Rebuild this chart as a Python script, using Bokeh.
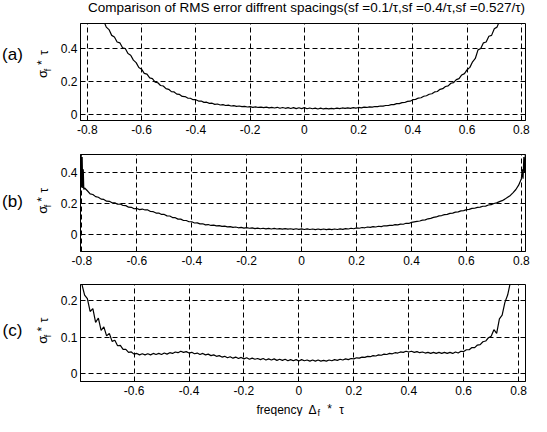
from bokeh.plotting import figure
from bokeh.models import Range1d, FixedTicker
from bokeh.layouts import column, row
from bokeh.core.properties import value
from bokeh.embed import file_html
from bokeh.resources import INLINE

# ---------------- data ----------------
title_text = "Comparison of RMS error diffrent spacings(sf =0.1/\u03c4,sf =0.4/\u03c4,sf =0.527/\u03c4)"
panel_tags = ["(a)", "(b)", "(c)"]
x_label_parts = ["freqency", "\u0394", "f", "*", "\u03c4"]
y_label_parts = ["\u03c3", "f", "*", "\u03c4"]

x_ticks = [-0.8, -0.6, -0.4, -0.2, 0, 0.2, 0.4, 0.6, 0.8]
x_tick_labels = ["-0.8", "-0.6", "-0.4", "-0.2", "0", "0.2", "0.4", "0.6", "0.8"]
y_ticks_ab = [0, 0.2, 0.4]
y_tick_labels_ab = ["0", "0.2", "0.4"]
y_ticks_c = [0, 0.1, 0.2]
y_tick_labels_c = ["0", "0.1", "0.2"]

freq_grid = [
    -0.80, -0.79, -0.78, -0.77, -0.76, -0.75, -0.74, -0.73, -0.72, -0.71,
    -0.70, -0.69, -0.68, -0.67, -0.66, -0.65, -0.64, -0.63, -0.62, -0.61,
    -0.60, -0.59, -0.58, -0.57, -0.56, -0.55, -0.54, -0.53, -0.52, -0.51,
    -0.50, -0.49, -0.48, -0.47, -0.46, -0.45, -0.44, -0.43, -0.42, -0.41,
    -0.40, -0.39, -0.38, -0.37, -0.36, -0.35, -0.34, -0.33, -0.32, -0.31,
    -0.30, -0.29, -0.28, -0.27, -0.26, -0.25, -0.24, -0.23, -0.22, -0.21,
    -0.20, -0.19, -0.18, -0.17, -0.16, -0.15, -0.14, -0.13, -0.12, -0.11,
    -0.10, -0.09, -0.08, -0.07, -0.06, -0.05, -0.04, -0.03, -0.02, -0.01,
    0.00, 0.01, 0.02, 0.03, 0.04, 0.05, 0.06, 0.07, 0.08, 0.09,
    0.10, 0.11, 0.12, 0.13, 0.14, 0.15, 0.16, 0.17, 0.18, 0.19,
    0.20, 0.21, 0.22, 0.23, 0.24, 0.25, 0.26, 0.27, 0.28, 0.29,
    0.30, 0.31, 0.32, 0.33, 0.34, 0.35, 0.36, 0.37, 0.38, 0.39,
    0.40, 0.41, 0.42, 0.43, 0.44, 0.45, 0.46, 0.47, 0.48, 0.49,
    0.50, 0.51, 0.52, 0.53, 0.54, 0.55, 0.56, 0.57, 0.58, 0.59,
    0.60, 0.61, 0.62, 0.63, 0.64, 0.65, 0.66, 0.67, 0.68, 0.69,
    0.70, 0.71, 0.72, 0.73, 0.74, 0.75, 0.76, 0.77, 0.78, 0.79,
    0.80,
]

# (a) sf = 0.1/tau  (x = freq_grid)
rms_a = [
    0.83, 0.77, 0.74, 0.67, 0.65, 0.59, 0.57, 0.53, 0.515, 0.48,
    0.47, 0.44, 0.435, 0.405, 0.40, 0.37, 0.36, 0.33, 0.315, 0.285,
    0.275, 0.25, 0.245, 0.222, 0.218, 0.197, 0.193, 0.176, 0.173, 0.157,
    0.153, 0.139, 0.137, 0.124, 0.122, 0.110, 0.109, 0.100, 0.099, 0.090,
    0.090, 0.082, 0.082, 0.074, 0.075, 0.068, 0.069, 0.062, 0.064, 0.058,
    0.060, 0.055, 0.057, 0.052, 0.054, 0.050, 0.052, 0.048, 0.050, 0.046,
    0.048, 0.044, 0.047, 0.043, 0.045, 0.042, 0.045, 0.041, 0.044, 0.040,
    0.044, 0.038, 0.043, 0.038, 0.042, 0.037, 0.042, 0.036, 0.041, 0.036,
    0.042, 0.035, 0.040, 0.035, 0.039, 0.034, 0.039, 0.034, 0.038, 0.034,
    0.038, 0.035, 0.039, 0.036, 0.040, 0.037, 0.041, 0.038, 0.042, 0.039,
    0.043, 0.041, 0.045, 0.043, 0.047, 0.045, 0.049, 0.048, 0.052, 0.051,
    0.055, 0.055, 0.060, 0.060, 0.066, 0.066, 0.072, 0.073, 0.080, 0.081,
    0.090, 0.092, 0.100, 0.102, 0.111, 0.114, 0.123, 0.126, 0.137, 0.140,
    0.153, 0.157, 0.170, 0.174, 0.190, 0.194, 0.212, 0.218, 0.240, 0.248,
    0.272, 0.286, 0.320, 0.340, 0.392, 0.400, 0.435, 0.440, 0.475, 0.480,
    0.520, 0.530, 0.570, 0.590, 0.640, 0.660, 0.720, 0.740, 0.800, 0.820,
    0.880,
]

# (b) sf = 0.4/tau  (x = left spike + freq_grid[1:] + right spike)
edge_left_x_b = [-0.805, -0.803, -0.801, -0.799, -0.797, -0.795, -0.793]
edge_left_b = [0.30, 0.55, 0.31, 0.50, 0.30, 0.42, 0.29]
rms_b = [
    0.300, 0.282, 0.262, 0.258, 0.244, 0.240, 0.228, 0.226, 0.215, 0.214,
    0.204, 0.204, 0.195, 0.196, 0.187, 0.186, 0.176, 0.175, 0.166, 0.168,
    0.160, 0.164, 0.158, 0.158, 0.148, 0.147, 0.138, 0.138, 0.129, 0.129,
    0.120, 0.119, 0.109, 0.108, 0.099, 0.099, 0.090, 0.090, 0.082, 0.082,
    0.074, 0.075, 0.068, 0.069, 0.062, 0.064, 0.058, 0.060, 0.055, 0.057,
    0.052, 0.054, 0.049, 0.051, 0.046, 0.048, 0.043, 0.046, 0.041, 0.044,
    0.040, 0.042, 0.038, 0.041, 0.037, 0.040, 0.036, 0.039, 0.035, 0.039,
    0.035, 0.038, 0.034, 0.038, 0.034, 0.037, 0.033, 0.037, 0.033, 0.036,
    0.032, 0.036, 0.032, 0.035, 0.031, 0.035, 0.031, 0.035, 0.031, 0.034,
    0.031, 0.035, 0.032, 0.036, 0.033, 0.038, 0.035, 0.040, 0.037, 0.042,
    0.040, 0.045, 0.043, 0.048, 0.046, 0.050, 0.048, 0.053, 0.051, 0.056,
    0.055, 0.059, 0.058, 0.063, 0.062, 0.067, 0.066, 0.072, 0.071, 0.078,
    0.081, 0.084, 0.087, 0.092, 0.094, 0.101, 0.104, 0.110, 0.113, 0.120,
    0.122, 0.128, 0.130, 0.136, 0.138, 0.144, 0.146, 0.152, 0.154, 0.160,
    0.162, 0.168, 0.169, 0.175, 0.176, 0.182, 0.183, 0.190, 0.192, 0.200,
    0.204, 0.212, 0.218, 0.228, 0.240, 0.252, 0.270, 0.290, 0.318, 0.360,
]
edge_right_x_b = [0.803, 0.806, 0.809, 0.812, 0.815]
edge_right_b = [0.42, 0.36, 0.50, 0.40, 0.55]

# (c) sf = 0.527/tau  (x = freq_grid[:159])
rms_c = [
    0.26, 0.245, 0.215, 0.205, 0.170, 0.178, 0.140, 0.152, 0.118, 0.128,
    0.103, 0.110, 0.088, 0.091, 0.076, 0.077, 0.066, 0.066, 0.058, 0.059,
    0.053, 0.055, 0.051, 0.054, 0.051, 0.054, 0.051, 0.055, 0.052, 0.055,
    0.052, 0.056, 0.053, 0.057, 0.055, 0.059, 0.057, 0.061, 0.058, 0.060,
    0.056, 0.058, 0.054, 0.056, 0.052, 0.055, 0.051, 0.053, 0.049, 0.051,
    0.047, 0.049, 0.045, 0.047, 0.043, 0.046, 0.042, 0.045, 0.041, 0.044,
    0.040, 0.043, 0.039, 0.042, 0.039, 0.041, 0.038, 0.041, 0.037, 0.040,
    0.037, 0.040, 0.036, 0.039, 0.036, 0.039, 0.035, 0.038, 0.035, 0.038,
    0.034, 0.038, 0.035, 0.037, 0.034, 0.037, 0.034, 0.037, 0.034, 0.036,
    0.034, 0.037, 0.035, 0.038, 0.036, 0.039, 0.037, 0.040, 0.038, 0.041,
    0.040, 0.043, 0.042, 0.045, 0.044, 0.047, 0.046, 0.049, 0.048, 0.051,
    0.050, 0.053, 0.052, 0.055, 0.054, 0.057, 0.056, 0.059, 0.058, 0.061,
    0.059, 0.061, 0.058, 0.060, 0.057, 0.059, 0.056, 0.058, 0.055, 0.058,
    0.055, 0.058, 0.055, 0.058, 0.055, 0.058, 0.055, 0.059, 0.056, 0.061,
    0.060, 0.065, 0.065, 0.071, 0.071, 0.078, 0.079, 0.087, 0.089, 0.098,
    0.102, 0.120, 0.110, 0.150, 0.160, 0.195, 0.215, 0.250, 0.280,
]

# ---------------- styling / layout ----------------
FONT = "Liberation Sans"
W = 531
LAB_W = 54
MAIN_W = W - LAB_W
FRAME_H = 97
HALF_PI = 1.5707963


def text_fig(width, height):
    f = figure(width=width, height=height, x_range=Range1d(0, width), y_range=Range1d(0, height),
               min_border=0, toolbar_location=None, output_backend="svg",
               background_fill_color="white", border_fill_color="white")
    f.axis.visible = False
    f.grid.visible = False
    f.outline_line_color = None
    return f


def main_panel(top, bottom, xr, yr, yt, ytl, xs, ys):
    p = figure(width=MAIN_W, height=top + FRAME_H + bottom, x_range=Range1d(*xr),
               y_range=Range1d(*yr), min_border_left=26, min_border_right=6,
               min_border_top=top, min_border_bottom=bottom, toolbar_location=None,
               output_backend="svg", background_fill_color="white",
               border_fill_color="white")
    p.line(xs, ys, line_color="black", line_width=1.2)
    p.xaxis.ticker = FixedTicker(ticks=x_ticks)
    p.xaxis.major_label_overrides = dict(zip(x_ticks, x_tick_labels))
    p.yaxis.ticker = FixedTicker(ticks=yt)
    p.yaxis.major_label_overrides = dict(zip(yt, ytl))
    p.xgrid.ticker = FixedTicker(ticks=x_ticks)
    p.ygrid.ticker = FixedTicker(ticks=yt)
    for g in (p.xgrid, p.ygrid):
        g.grid_line_color = "black"
        g.grid_line_dash = "5 3"
        g.grid_line_width = 1
        g.grid_line_alpha = 1
    for ax in (p.xaxis, p.yaxis):
        ax.axis_line_color = "black"
        ax.major_tick_in = 4
        ax.major_tick_out = 0
        ax.minor_tick_line_color = None
        ax.major_label_text_font = FONT
        ax.major_label_text_font_size = "12px"
        ax.major_label_text_color = "black"
    p.xaxis.major_label_standoff = 4
    p.yaxis.major_label_standoff = 3
    p.outline_line_color = "black"
    p.outline_line_alpha = 1
    p.outline_line_width = 1
    return p


def label_fig(height, bottom, tag, tag_y):
    f = text_fig(LAB_W, height)
    f.text(x=[12], y=[tag_y], text=[tag], text_font=value(FONT), text_font_size="17px",
           text_align="center", text_baseline="middle", text_color="black")
    cy = bottom + FRAME_H / 2
    f.text(x=[42, 47, 41, 43], y=[cy - 12, cy - 7, cy + 2, cy + 14], text=y_label_parts,
           text_font=value(FONT), text_font_size=["13px", "9px", "12px", "12px"],
           angle=HALF_PI, text_align="center", text_baseline="middle", text_color="black")
    return f


# title strip (page y 8..30)
title_f = text_fig(W, 22)
title_f.text(x=[306], y=[15], text=[title_text], text_font=value(FONT), text_font_size="13.5px",
             text_align="center", text_baseline="middle", text_color="black")

pa = main_panel(1, 20, (-0.825, 0.815), (-0.036, 0.552), y_ticks_ab, y_tick_labels_ab,
                freq_grid, rms_a)
la = label_fig(1 + FRAME_H + 20, 20, panel_tags[0], 80)

pb = main_panel(14, 20, (-0.805, 0.815), (-0.11, 0.516), y_ticks_ab, y_tick_labels_ab,
                edge_left_x_b + freq_grid[1:] + edge_right_x_b,
                edge_left_b + rms_b + edge_right_b)
lb = label_fig(14 + FRAME_H + 20, 20, panel_tags[1], 68)

pc = main_panel(13, 19, (-0.795, 0.825), (-0.022, 0.244), y_ticks_c, y_tick_labels_c,
                freq_grid[:159], rms_c)
lc = label_fig(13 + FRAME_H + 19, 19, panel_tags[2], 68)

# x label strip (page y 408..424)
xlab_f = text_fig(W, 16)
xlab_f.text(x=[302, 308, 317, 329, 341], y=[7, 7, 4, 8, 7], text=x_label_parts,
            text_font=value(FONT), text_font_size=["12px", "12px", "9px", "12px", "12px"],
            text_align=["right", "left", "left", "center", "center"],
            text_baseline="middle", text_color="black")

layout = column(title_f, row(la, pa), row(lb, pb), row(lc, pc), xlab_f)
open("out.html", "w").write(file_html(layout, INLINE))
